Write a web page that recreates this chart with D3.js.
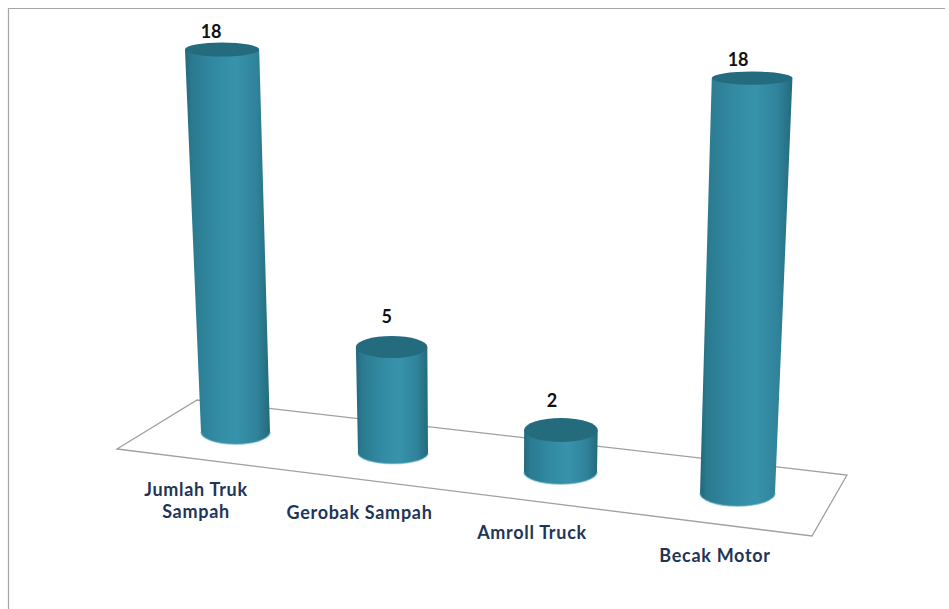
<!DOCTYPE html>
<html><head><meta charset="utf-8">
<script src="https://cdn.jsdelivr.net/npm/d3@7"></script>
<style>html,body{margin:0;padding:0;background:#fff}svg{display:block}</style>
</head><body><svg id="c" width="949" height="609"></svg>
<script>
const categories = ["Jumlah Truk|Sampah", "Gerobak Sampah", "Amroll Truck", "Becak Motor"];
const values = [18, 5, 2, 18];

const W = 949, H = 609;
const svg = d3.select("#c");
const idx = categories.map((_, i) => i);
// perspective floor scales, piecewise along the category axis
const baseX = d3.scaleLinear().domain(idx).range([235.5, 393, 560.5, 737.5]);
const baseY = d3.scaleLinear().domain(idx).range([432, 453, 472, 493]);
const baseRx = d3.scaleLinear().domain(idx).range([34.5, 35, 36.5, 37.5]);
const baseRy = d3.scaleLinear().domain(idx).range([12, 10.5, 12, 13]);
const unit = d3.scaleLinear().domain(idx).range([21.25, 21.2, 21, 23.05]);
const labelX = d3.scaleLinear().domain(idx).range([196, 359.5, 532, 715]);
const labelY = d3.scaleLinear().domain(idx).range([496, 519, 539, 562]);
const valueShift = d3.scaleLinear().domain(idx).range([-11, -5, -9, -14]);
const valueLift = d3.scaleLinear().domain(idx).range([12, 24, 23, 12]);
const topRy = d3.scaleLinear().domain([0, 420]).range([12.5, 6.5]);
const vanishX = 486, lean = 0.00014, flare = 0.0068;

const geom = values.map((v, i) => {
  const h = v * unit(i), bx = baseX(i);
  return { i, v, bx, by: baseY(i), brx: baseRx(i), bry: baseRy(i),
    tx: bx + (bx - vanishX) * h * lean, ty: baseY(i) - h,
    trx: baseRx(i) + h * flare, tryy: topRy(h) };
});

// frame of the pasted picture
svg.append("path").attr("d", `M8.5,${H} V8.5 H${W - 4}`)
  .attr("fill", "none").attr("stroke", "#a6a6a6").attr("stroke-width", 1.2);

// floor
const floor = [[117, 449], [197, 400], [847, 475], [812, 536]];
svg.append("path").attr("d", d3.line()(floor) + "Z")
  .attr("fill", "none").attr("stroke", "#a0a09c").attr("stroke-width", 1.3);

// shading
const defs = svg.append("defs");
const side = defs.append("linearGradient").attr("id", "side");
[[0, "#22687b"], [0.08, "#2a7a8f"], [0.35, "#318aa2"], [0.6, "#3793ab"], [0.85, "#2f8299"], [1, "#246a7d"]]
  .forEach(([o, c]) => side.append("stop").attr("offset", o).attr("stop-color", c));

const bars = svg.selectAll("g.bar").data(geom).join("g").attr("class", "bar");
const bodyPath = d => {
  const l0 = d.tx - d.trx, r0 = d.tx + d.trx, l1 = d.bx - d.brx, r1 = d.bx + d.brx;
  return `M${l0},${d.ty} L${l1},${d.by} A${d.brx},${d.bry} 0 0 0 ${r1},${d.by} L${r0},${d.ty} Z`;
};
bars.append("path").attr("d", bodyPath).attr("fill", "url(#side)");
bars.append("path")
  .attr("d", d => `M${d.bx - d.brx},${d.by} A${d.brx},${d.bry} 0 0 0 ${d.bx + d.brx},${d.by}`)
  .attr("fill", "none").attr("stroke", "#3f9db5").attr("stroke-width", 1.5).attr("stroke-opacity", 0.6);
bars.append("ellipse").attr("cx", d => d.tx).attr("cy", d => d.ty)
  .attr("rx", d => d.trx).attr("ry", d => d.tryy).attr("fill", "#256b7e");

// value labels
bars.append("text").attr("x", d => d.tx + valueShift(d.i))
  .attr("y", d => d.ty - valueLift(d.i))
  .attr("text-anchor", "middle")
  .attr("font-family", "Lato, 'Open Sans', sans-serif").attr("font-weight", 700)
  .attr("font-size", 18).attr("fill", "#111").text(d => d.v);

// category labels
const cats = svg.selectAll("text.cat").data(categories).join("text").attr("class", "cat")
  .attr("text-anchor", "middle")
  .attr("font-family", "Lato, 'Open Sans', sans-serif").attr("font-weight", 700)
  .attr("font-size", 18).attr("letter-spacing", 0.7).attr("fill", "#1f3558");
cats.each(function (c, i) {
  d3.select(this).selectAll("tspan").data(c.split("|")).join("tspan")
    .attr("x", labelX(i)).attr("y", (_, k) => labelY(i) + k * 22).text(t => t);
});
</script></body></html>
